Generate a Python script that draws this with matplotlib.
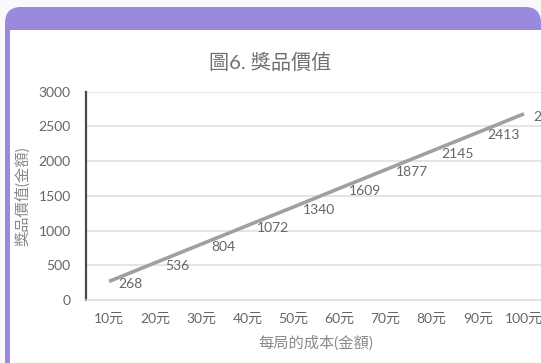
import matplotlib
matplotlib.use("Agg")
import matplotlib.pyplot as plt
from matplotlib.patches import FancyBboxPatch, Rectangle
from matplotlib.transforms import IdentityTransform

plt.rcParams['font.family'] = ['Lato', 'Noto Sans CJK TC', 'DejaVu Sans']

# Data
categories = ['10元', '20元', '30元', '40元', '50元', '60元', '70元', '80元', '90元', '100元']
prize_values = [268, 536, 804, 1072, 1340, 1609, 1877, 2145, 2413, 2681]
y_ticks = [0, 500, 1000, 1500, 2000, 2500, 3000]

title_text = '圖6. 獎品價值'
x_title = '每局的成本(金額)'
y_title = '獎品價值(金額)'

W, H = 541, 363
DPI = 100
fig = plt.figure(figsize=(W / DPI, H / DPI), dpi=DPI)
fig.patch.set_facecolor('#f9f9fb')

purple = '#9b89de'
text_gray = '#666666'

# Slide frame: purple rounded card with white content panel
frame = FancyBboxPatch((5, -40), W - 5, H - 7 + 40,
                       boxstyle='round,pad=0,rounding_size=16',
                       transform=IdentityTransform(), facecolor=purple,
                       edgecolor='none', zorder=-2)
fig.patches.append(frame)
panel = Rectangle((10, -10), W + 10, H - 30 + 10, transform=IdentityTransform(),
                  facecolor='white', edgecolor='none', zorder=-1)
fig.patches.append(panel)

# Plot area (category axis extends slightly past the right edge)
ax_left, ax_right = 86, 547
ax_bottom, ax_top = H - 300, H - 91.7
ax = fig.add_axes([ax_left / W, ax_bottom / H, (ax_right - ax_left) / W, (ax_top - ax_bottom) / H])
ax.set_zorder(1)
ax.patch.set_alpha(0)

x = list(range(len(categories)))
ax.plot(x, prize_values, color='#a0a0a0', linewidth=2.6, solid_capstyle='butt', zorder=3)

for xi, v in zip(x, prize_values):
    ax.annotate(str(v), (xi, v), xytext=(7, -2), textcoords='offset points',
                ha='left', va='center', fontsize=10, color=text_gray, zorder=4,
                annotation_clip=False)

ax.set_xlim(-0.5, len(categories) - 0.5)
ax.set_ylim(0, 3000)
ax.set_yticks(y_ticks)
ax.set_xticks(x)
ax.set_xticklabels(categories)
ax.yaxis.grid(True, color='#dedede', linewidth=1.1)
ax.set_axisbelow(True)

for side in ['top', 'right']:
    ax.spines[side].set_visible(False)
ax.spines['left'].set_color('#4a4a4a')
ax.spines['left'].set_linewidth(1.6)
ax.spines['bottom'].set_color('#dedede')
ax.spines['bottom'].set_linewidth(1.1)

ax.tick_params(axis='y', length=0, pad=11, labelsize=10, labelcolor=text_gray)
ax.tick_params(axis='x', length=0, pad=9, labelsize=10, labelcolor=text_gray)

fig.text(270 / W, 1 - 62 / H, title_text, ha='center', va='center',
         fontsize=14.5, color='#707070')
fig.text(316 / W, 1 - 343 / H, x_title, ha='center', va='center',
         fontsize=11, color='#8a8a8a')
fig.text(22 / W, 1 - 196 / H, y_title, ha='center', va='center', rotation=90,
         fontsize=11, color='#8a8a8a')

fig.savefig('out.png', dpi=DPI, facecolor=fig.get_facecolor())
